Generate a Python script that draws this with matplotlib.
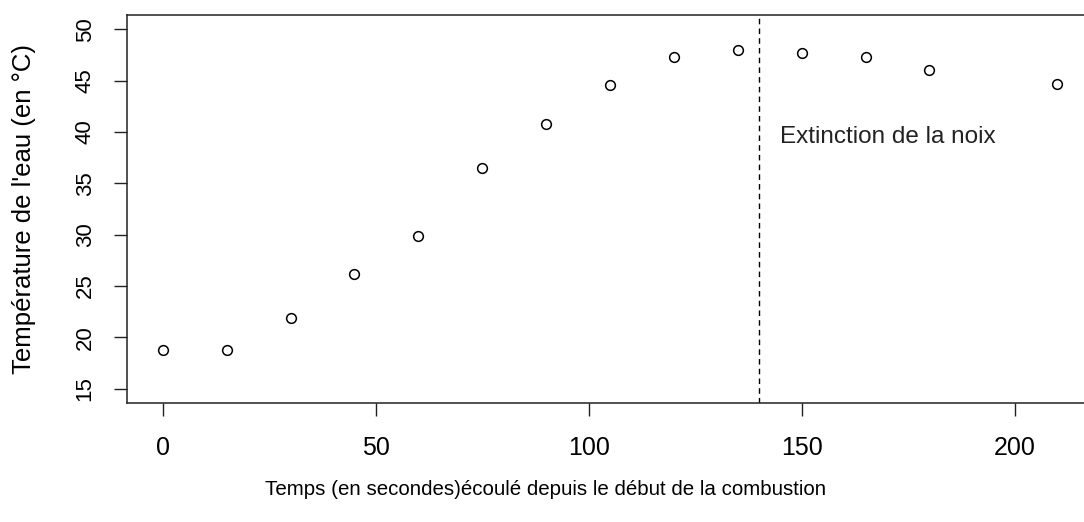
import matplotlib
matplotlib.use("Agg")
import matplotlib.pyplot as plt

plt.rcParams['font.family'] = ['Liberation Sans', 'DejaVu Sans']

temps = [0, 15, 30, 45, 60, 75, 90, 105, 120, 135, 150, 165, 180, 210]
temperature = [18.8, 18.8, 21.9, 26.2, 29.9, 36.5, 40.8, 44.6, 47.3, 48.0, 47.7, 47.3, 46.0, 44.7]
extinction_x = 140
x_ticks = [0, 50, 100, 150, 200]
y_ticks = [15, 20, 25, 30, 35, 40, 45, 50]

fig = plt.figure(figsize=(10.84, 5.22), dpi=100)
ax = fig.add_axes([127/1084, 1 - 403/522, (1093 - 127)/1084, (403 - 15)/522])

ax.plot(temps, temperature, linestyle='none', marker='o', markersize=7,
        markerfacecolor='none', markeredgecolor='black', markeredgewidth=1.1)
ax.axvline(extinction_x, color='black', linestyle=(0, (4, 3)), linewidth=1)
ax.text(145, 39.5, "Extinction de la noix", ha='left', va='center', fontsize=17.5,
        color='#222222')

ax.set_xlim(-8.4, 218.4)
ax.set_ylim(13.6, 51.4)
ax.set_xticks(x_ticks)
ax.set_yticks(y_ticks)
ax.set_xticklabels([str(v) for v in x_ticks], fontsize=18)
ax.set_yticklabels([str(v) for v in y_ticks], fontsize=16, rotation=90, va='center')
ax.tick_params(direction='out', length=9.5, width=1, color='#222222')
ax.tick_params(axis='x', pad=14)
ax.tick_params(axis='y', pad=13)
for s in ax.spines.values():
    s.set_linewidth(1.1)
    s.set_color('#222222')

ax.set_xlabel("Temps (en secondes)écoulé depuis le début de la combustion", fontsize=14.8,
              va='center')
ax.xaxis.set_label_coords(0.433, -0.224)
ax.set_ylabel("Température de l'eau (en °C)", fontsize=18.5, labelpad=28)

fig.savefig("out.png", dpi=100)
